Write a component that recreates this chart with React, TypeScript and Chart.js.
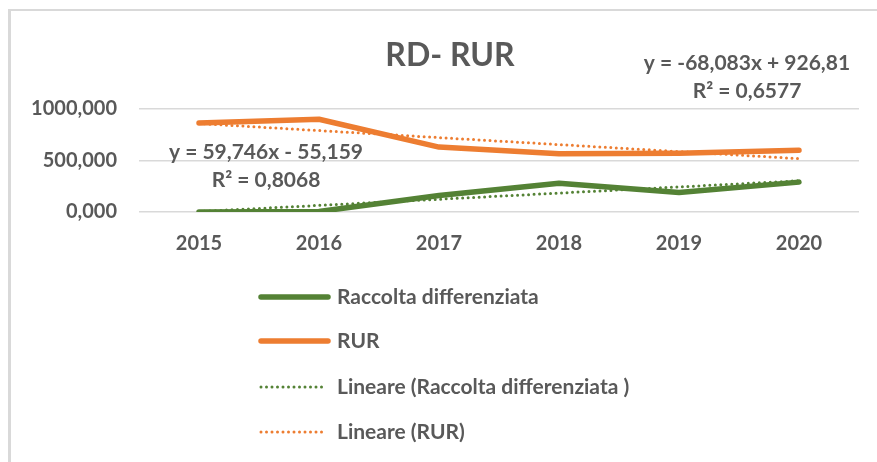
import React, { useEffect, useRef } from "react";
import { Chart, registerables } from "chart.js";

Chart.register(...registerables);

const years = ["2015", "2016", "2017", "2018", "2019", "2020"];
const raccoltaValues = [0, 5, 160, 280, 190, 290];
const rurValues = [865, 900, 630, 565, 570, 600];

const rdSlope = 59.746;
const rdIntercept = -55.159;
const rurSlope = -68.083;
const rurIntercept = 926.81;

const chartTitle = "RD- RUR";
const seriesNames = ["Raccolta differenziata", "RUR", "Lineare (Raccolta differenziata )", "Lineare (RUR)"];
const rdEquation = ["y = 59,746x - 55,159", "R² = 0,8068"];
const rurEquation = ["y = -68,083x + 926,81", "R² = 0,6577"];

const GREEN = "#548235";
const ORANGE = "#ED7D31";
const TEXT = "#595959";
const FONT = "Lato, 'Open Sans', sans-serif";

const rdTrend = years.map((_, i) => rdSlope * (i + 1) + rdIntercept);
const rurTrend = years.map((_, i) => rurSlope * (i + 1) + rurIntercept);

const overlayPlugin = {
  id: "overlay",
  afterDraw(chart: any) {
    const ctx = chart.ctx as CanvasRenderingContext2D;
    ctx.save();
    ctx.fillStyle = TEXT;
    ctx.textBaseline = "middle";
    // title
    ctx.font = `bold 32px ${FONT}`;
    ctx.textAlign = "center";
    ctx.fillText(chartTitle, 450, 56);
    // trend equations
    ctx.font = `bold 21px ${FONT}`;
    ctx.fillText(rdEquation[0], 266, 152);
    ctx.fillText(rdEquation[1], 266, 180);
    ctx.fillText(rurEquation[0], 747, 63);
    ctx.fillText(rurEquation[1], 747, 91);
    // legend
    const rows = [297, 341, 387, 432];
    const styles = [
      { color: GREEN, dotted: false },
      { color: ORANGE, dotted: false },
      { color: GREEN, dotted: true },
      { color: ORANGE, dotted: true },
    ];
    ctx.textAlign = "left";
    rows.forEach((y, i) => {
      const st = styles[i];
      ctx.save();
      ctx.strokeStyle = st.color;
      ctx.lineCap = "round";
      if (st.dotted) {
        ctx.lineWidth = 3;
        ctx.setLineDash([0, 5.5]);
        ctx.beginPath();
        ctx.moveTo(261, y);
        ctx.lineTo(324, y);
        ctx.stroke();
      } else {
        ctx.lineWidth = 5.5;
        ctx.beginPath();
        ctx.moveTo(261, y);
        ctx.lineTo(328, y);
        ctx.stroke();
      }
      ctx.restore();
      ctx.fillStyle = TEXT;
      ctx.font = `bold 21px ${FONT}`;
      ctx.fillText(seriesNames[i], 337, y);
    });
    ctx.restore();
  },
};

export default function App() {
  const ref = useRef<HTMLCanvasElement | null>(null);

  useEffect(() => {
    if (!ref.current) return;
    const chart = new Chart(ref.current, {
      type: "line",
      data: {
        labels: years,
        datasets: [
          {
            label: seriesNames[0],
            data: raccoltaValues,
            borderColor: GREEN,
            backgroundColor: GREEN,
            borderWidth: 5.5,
            pointRadius: 0,
            borderCapStyle: "round",
            borderJoinStyle: "round",
            tension: 0,
          },
          {
            label: seriesNames[1],
            data: rurValues,
            borderColor: ORANGE,
            backgroundColor: ORANGE,
            borderWidth: 5.5,
            pointRadius: 0,
            borderCapStyle: "round",
            borderJoinStyle: "round",
            tension: 0,
          },
          {
            label: seriesNames[2],
            data: rdTrend,
            borderColor: GREEN,
            borderWidth: 3,
            borderDash: [0, 5.5],
            borderCapStyle: "round",
            pointRadius: 0,
          },
          {
            label: seriesNames[3],
            data: rurTrend,
            borderColor: ORANGE,
            borderWidth: 3,
            borderDash: [0, 5.5],
            borderCapStyle: "round",
            pointRadius: 0,
          },
        ],
      },
      options: {
        responsive: false,
        animation: false,
        layout: { padding: { top: 109, left: 0, right: 18, bottom: 190 } },
        plugins: {
          legend: { display: false },
          title: { display: false },
          tooltip: { enabled: false },
        },
        scales: {
          x: {
            offset: true,
            grid: { display: false, drawTicks: false, offset: true },
            border: { display: false },
            ticks: {
              color: TEXT,
              font: { family: FONT, size: 20, weight: "bold" },
              padding: 20,
              maxRotation: 0,
            },
            afterFit: (s: any) => {
              s.height = 60;
            },
          },
          y: {
            min: 0,
            max: 1000,
            grid: { color: "#d9d9d9", lineWidth: 1.5, drawTicks: false },
            border: { display: false },
            ticks: {
              stepSize: 500,
              color: TEXT,
              font: { family: FONT, size: 20, weight: "bold" },
              padding: 22,
              callback: (v: any) => Number(v).toFixed(3).replace(".", ","),
            },
            afterFit: (s: any) => {
              s.width = 139;
            },
          },
        },
      },
      plugins: [overlayPlugin],
    });
    return () => chart.destroy();
  }, []);

  return (
    <div style={{ position: "fixed", left: 0, top: 0, width: 877, height: 462, background: "#fff", overflow: "hidden" }}>
      <div
        style={{
          position: "absolute",
          left: 8,
          top: 9,
          width: 900,
          height: 500,
          borderTop: "2px solid #d9d9d9",
          borderLeft: "3px solid #d9d9d9",
        }}
      />
      <canvas ref={ref} width={877} height={462} style={{ position: "absolute", left: 0, top: 0 }} />
    </div>
  );
}
